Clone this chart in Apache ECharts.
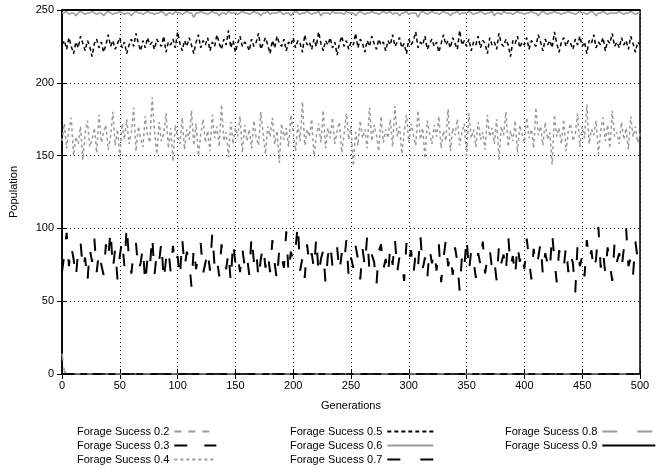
<!DOCTYPE html>
<html>
<head>
<meta charset="utf-8">
<title>Population</title>
<style>
  html, body { margin: 0; padding: 0; background: #fff; }
  #main { width: 662px; height: 469px; }
</style>
</head>
<body>
<div id="main"></div>
<script src="https://cdn.jsdelivr.net/npm/echarts@6/dist/echarts.min.js"></script>
<script>
// generations are sampled every STEP for the noisy series
var STEP = 2;
var xTicks = [0, 50, 100, 150, 200, 250, 300, 350, 400, 450, 500];
var yTicks = [0, 50, 100, 150, 200, 250];

// series that stay flat (only a few points needed)
var flatGens = [0, 2, 4, 500];
var s02 = [14, 2, 0, 0];
var s03 = [0, 0, 0, 0];
var s08 = [250, 250, 250, 250];
var s09 = [250, 250, 250, 250];

var s04 = [
  160,172,155,168,176,150,163,158,170,147,165,174,156,161,169,152,178,159,166,171,
  154,163,180,157,168,149,172,161,175,158,166,183,153,170,162,156,177,164,159,190,
  167,151,173,160,165,179,155,169,146,171,163,158,176,154,168,161,181,157,172,150,
  164,175,159,167,153,178,162,170,156,185,160,166,149,173,158,169,163,177,152,171,
  160,168,155,174,162,157,180,165,151,170,163,176,158,167,145,172,161,169,156,178,
  166,153,171,160,187,157,168,163,175,150,164,172,159,181,155,169,162,176,158,167,
  173,152,165,179,161,170,143,166,157,174,162,168,155,183,160,171,164,153,177,159,
  168,162,175,156,184,163,170,151,166,178,159,172,164,157,181,161,169,148,174,165,
  158,171,163,177,155,167,160,182,153,169,164,175,157,166,172,150,179,162,168,156,
  173,161,166,154,178,163,169,158,175,147,170,164,180,156,167,160,174,152,171,165,
  159,176,162,168,155,183,164,170,157,173,161,166,144,178,163,169,158,175,153,167,
  172,160,165,179,156,170,162,185,158,168,164,174,151,167,176,160,171,155,181,163,
  166,158,173,161,169,154,177,163,170,159,165
];

var s05 = [
  226,229,223,231,225,220,228,224,232,227,222,229,225,218,227,230,224,228,221,226,
  233,225,229,223,227,231,224,228,220,226,230,225,234,227,222,229,224,231,226,228,
  223,230,227,225,232,221,228,226,230,224,235,227,222,229,225,231,226,220,228,233,
  224,229,226,231,222,228,225,233,227,223,230,226,236,224,229,221,227,232,225,228,
  226,222,230,225,228,234,223,227,231,226,220,229,224,232,227,225,230,222,228,226,
  231,224,229,227,221,233,226,228,223,230,225,235,227,222,229,226,231,224,228,219,
  227,232,225,229,223,228,226,234,224,230,227,221,229,225,232,227,223,230,226,228,
  222,229,226,233,225,228,231,224,227,220,230,226,229,235,224,228,226,232,223,227,
  230,225,228,221,227,233,226,229,224,231,227,223,236,226,229,225,230,222,228,226,
  232,224,229,227,220,231,226,228,223,234,227,225,230,226,218,229,227,232,224,228,
  226,231,223,229,227,225,233,228,222,230,226,229,224,235,227,221,228,231,225,229,
  227,223,230,226,232,225,228,220,229,227,233,224,228,226,231,222,229,227,234,225,
  228,224,231,226,229,223,232,227,221,228,226
];

var s06 = [
  248,248,249,247,248,248,246,248,249,248,247,248,248,249,248,247,248,248,246,248,
  249,248,247,248,248,249,248,247,248,248,246,248,249,248,248,247,248,249,248,248,
  247,248,248,249,248,246,248,248,247,249,248,248,247,248,249,248,248,245,248,248,
  249,248,248,247,248,249,248,248,246,248,248,247,249,248,248,248,247,248,249,248,
  248,247,248,249,248,248,246,248,248,249,247,248,248,248,249,248,247,248,248,246,
  248,249,248,247,248,248,249,248,247,248,248,249,246,248,248,248,247,249,248,248,
  248,248,247,249,248,248,248,246,248,249,248,247,248,248,249,248,248,247,248,249,
  248,248,249,247,248,248,246,248,248,249,247,248,248,248,245,248,249,248,247,248,
  249,248,248,247,248,249,248,248,246,248,248,249,247,248,248,248,249,248,247,248,
  248,249,248,247,248,248,249,246,248,248,247,249,248,248,248,247,248,249,248,248,
  247,248,248,249,248,248,246,248,249,248,247,248,248,249,248,248,247,248,248,249,
  248,248,247,248,249,248,248,247,248,249,248,246,248,248,249,248,247,248,248,248,
  248,249,248,247,248,248,249,248,247,248,248
];

var s07 = [
  70,82,97,74,88,79,66,85,91,72,80,63,86,77,93,70,84,75,68,89,
  79,99,72,86,65,81,92,74,102,78,69,84,90,71,76,87,62,80,73,95,
  68,83,77,91,64,79,86,70,88,75,81,66,93,73,84,78,60,87,72,82,
  90,69,76,85,71,97,74,80,67,89,79,72,84,63,91,76,82,70,86,74,
  81,68,95,77,85,65,79,88,73,83,70,92,76,64,87,80,73,98,69,84,
  78,86,103,71,80,66,89,75,83,72,94,68,79,85,62,81,90,74,77,87,
  70,83,76,92,67,80,73,88,79,65,86,74,95,71,82,77,61,84,89,72,
  79,68,87,75,93,70,81,76,64,90,78,85,69,83,74,96,72,80,66,86,
  76,84,71,89,63,79,92,74,82,68,87,77,57,81,73,94,70,85,78,66,
  83,75,91,69,80,86,72,78,64,88,76,82,70,95,74,81,67,89,77,84,
  72,93,79,65,86,74,80,90,68,83,76,71,97,78,63,85,80,73,88,70,
  82,76,56,89,74,81,67,92,78,85,71,79,101,73,84,69,87,75,64,90,
  77,83,72,86,100,74,80,68,91,79,76
];

var names = ['Forage Sucess 0.2', 'Forage Sucess 0.3', 'Forage Sucess 0.4',
             'Forage Sucess 0.5', 'Forage Sucess 0.6', 'Forage Sucess 0.7',
             'Forage Sucess 0.8', 'Forage Sucess 0.9'];

function stepped(arr) {
  return arr.map(function (v, i) { return [i * STEP, v]; });
}
function paired(gens, arr) {
  return arr.map(function (v, i) { return [gens[i], v]; });
}
function line(name, data, color, width, type) {
  return {
    name: name, type: 'line', data: data, symbol: 'none', showSymbol: false,
    animation: false, clip: true,
    lineStyle: { color: color, width: width, type: type },
    itemStyle: { color: color }
  };
}

var FONT = 'Liberation Sans';
var GRAY = '#9a9a9a';
var legendBase = {
  orient: 'vertical', align: 'right', top: 426, height: 40, padding: 0,
  itemWidth: 42, itemHeight: 10, itemGap: 3,
  itemStyle: { opacity: 0 },
  textStyle: { fontSize: 11, color: '#000', fontFamily: FONT }
};

var app = echarts.init(document.getElementById('main'), null, { renderer: 'canvas' });
var option = {
  backgroundColor: '#fff',
  textStyle: { fontFamily: FONT },
  grid: { left: 61, right: 22, top: 10, bottom: 95, show: true, borderColor: '#000', borderWidth: 1.5, backgroundColor: 'transparent' },
  legend: [
    Object.assign({}, legendBase, { left: 77, data: names.slice(0, 3) }),
    Object.assign({}, legendBase, { left: 290, data: names.slice(3, 6), itemWidth: 46 }),
    Object.assign({}, legendBase, { left: 505, data: names.slice(6, 8), itemWidth: 53 })
  ],
  xAxis: [{
    type: 'value', min: 0, max: 500, interval: 50,
    name: 'Generations', nameLocation: 'middle', nameGap: 26,
    nameTextStyle: { fontSize: 11, color: '#000' },
    axisLine: { lineStyle: { color: '#000', width: 1.5 } },
    axisTick: { inside: true, length: 5, lineStyle: { color: '#000' } },
    axisLabel: { fontSize: 11, color: '#000', margin: 6 },
    splitLine: { show: true, lineStyle: { color: '#000', width: 1, type: [1, 3] } }
  }, {
    type: 'value', min: 0, max: 500, interval: 50, position: 'top',
    axisLine: { show: false },
    axisTick: { inside: true, length: 5, lineStyle: { color: '#000' } },
    axisLabel: { show: false }, splitLine: { show: false }
  }],
  yAxis: [{
    type: 'value', min: 0, max: 250, interval: 50,
    name: 'Population', nameLocation: 'middle', nameGap: 43, nameRotate: 90,
    nameTextStyle: { fontSize: 11, color: '#000' },
    axisLine: { show: true, lineStyle: { color: '#000', width: 1.5 } },
    axisTick: { show: true, inside: true, length: 5, lineStyle: { color: '#000' } },
    axisLabel: { fontSize: 11, color: '#000', margin: 8 },
    splitLine: { show: true, lineStyle: { color: '#000', width: 1, type: [1, 3] } }
  }, {
    type: 'value', min: 0, max: 250, interval: 50, position: 'right',
    axisLine: { show: false },
    axisTick: { show: true, inside: true, length: 5, lineStyle: { color: '#000' } },
    axisLabel: { show: false }, splitLine: { show: false }
  }],
  series: [
    line(names[0], paired(flatGens, s02), GRAY, 1.5, [7, 7]),
    line(names[1], paired(flatGens, s03), '#000', 1.5, [13, 17]),
    line(names[2], stepped(s04), GRAY, 1.5, [3, 3]),
    line(names[3], stepped(s05), '#000', 1.5, [4, 3]),
    line(names[4], stepped(s06), GRAY, 1.5, 'solid'),
    line(names[5], stepped(s07), '#000', 2, [13, 20]),
    line(names[6], paired(flatGens, s08), GRAY, 1.5, [15, 20]),
    line(names[7], paired(flatGens, s09), '#000', 2, 'solid')
  ]
};
app.setOption(option);
</script>
</body>
</html>
